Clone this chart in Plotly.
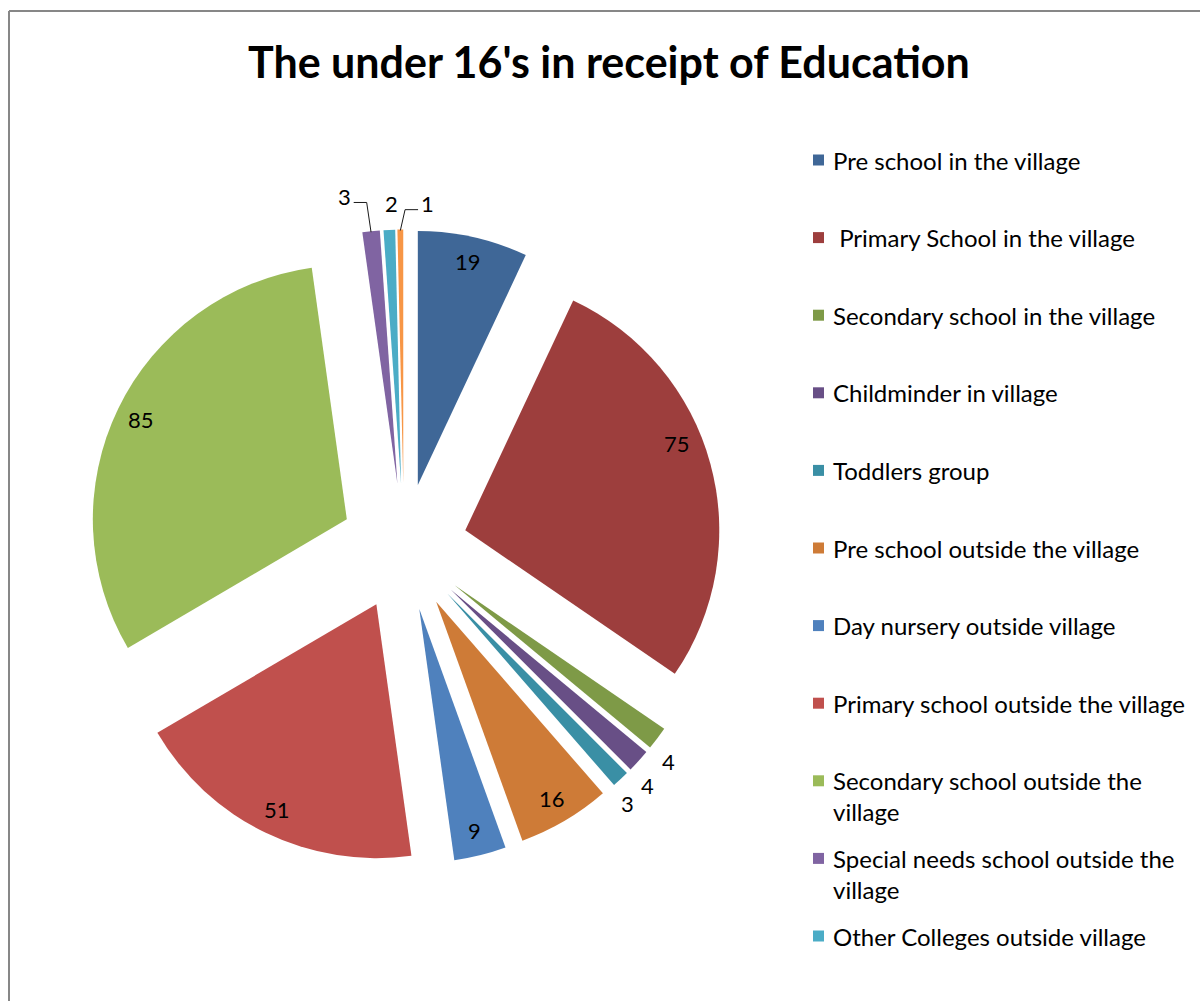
import math
import plotly.graph_objects as go

# Education categories for the under 16s (clockwise from 12 o'clock)
categories = [
    "Pre school in the village",
    " Primary School in the village",
    "Secondary school in the village",
    "Childminder in village",
    "Toddlers group",
    "Pre school outside the village",
    "Day nursery outside village",
    "Primary school outside the village",
    "Secondary school outside the village",
    "Special needs school outside the village",
    "Other Colleges outside village",
    "Other education outside village",
]
counts = [19, 75, 4, 4, 3, 16, 9, 51, 85, 3, 2, 1]
colors = [
    "#3F6797", "#9D3E3D", "#7E9A47", "#684F86", "#3A8FA5", "#CE7B37",
    "#4F81BD", "#C0504D", "#9BBB59", "#8064A2", "#4BACC6", "#F79646",
]
# Legend text as wrapped in the side panel (last category has no room)
legend_lines = [
    ["Pre school in the village"],
    [" Primary School in the village"],
    ["Secondary school in the village"],
    ["Childminder in village"],
    ["Toddlers group"],
    ["Pre school outside the village"],
    ["Day nursery outside village"],
    ["Primary school outside the village"],
    ["Secondary school outside the", "village"],
    ["Special needs school outside the", "village"],
    ["Other Colleges outside village"],
]

W, H = 1200, 1001
FONT = "Lato"

# Pie geometry in pixels
CX, CY = 404.0, 547.0      # pie centre
R = 254.0                  # slice radius
PULL = 0.25                # explode distance as a fraction of R
half = R * (1 + PULL)
dom_x = [(CX - half) / W, (CX + half) / W]
dom_y = [1 - (CY + half) / H, 1 - (CY - half) / H]


def px(x, y):
    return x / W, 1 - y / H


fig = go.Figure(
    go.Pie(
        labels=categories,
        values=counts,
        sort=False,
        direction="clockwise",
        rotation=0,
        pull=[PULL] * len(counts),
        marker=dict(colors=colors, line=dict(width=0)),
        textinfo="none",
        domain=dict(x=dom_x, y=dom_y),
        showlegend=False,
        hoverinfo="label+value",
    )
)

shapes = []
annotations = []

# Value labels: inside near the rim for large slices, just outside for small
angle_nudge = {1: -7.0, 2: 2.5, 3: 2.5, 4: 2.5}      # degrees, per slice index
offset_nudge = {9: (-24, -12), 10: (3, -4), 11: (27, -3)}  # pixels, top labels
leader = {9, 11}
total = float(sum(counts))
cum = 0.0
for i, v in enumerate(counts):
    mid = (cum + v / 2.0) / total * 360.0
    cum += v
    th = math.radians(mid)
    ux, uy = math.sin(th), -math.cos(th)
    sx, sy = CX + PULL * R * ux, CY + PULL * R * uy
    ta = math.radians(mid + angle_nudge.get(i, 0.0))
    frac = 0.9 if v >= 9 else 1.09
    lx, ly = sx + frac * R * math.sin(ta), sy - frac * R * math.cos(ta)
    dx, dy = offset_nudge.get(i, (0, 0))
    lx, ly = lx + dx, ly + dy
    annotations.append(dict(
        xref="paper", yref="paper", x=lx / W, y=1 - ly / H,
        xanchor="center", yanchor="middle", showarrow=False,
        text=str(v), font=dict(family=FONT, size=22, color="#000000"),
    ))
    if i in leader:
        # elbow leader line from the slice rim to the moved label
        ox, oy = sx + R * ux, sy + R * uy + 1
        side = -1 if dx < 0 else 1
        ex, ey = lx - side * 22, ly + 6
        tx, ty = lx - side * 9, ly + 6
        pts = [px(ox, oy), px(ex, ey), px(tx, ty)]
        path = "M {:.5f},{:.5f} L {:.5f},{:.5f} L {:.5f},{:.5f}".format(
            *pts[0], *pts[1], *pts[2])
        shapes.append(dict(type="path", xref="paper", yref="paper", path=path,
                           line=dict(color="#1A1A1A", width=1)))

# Side legend drawn as swatches and text
pitch = 77.6
y_first = 160
line_gap = 31
for i, lines in enumerate(legend_lines):
    yc = y_first + i * pitch
    shapes.append(dict(
        type="rect", xref="paper", yref="paper",
        x0=813 / W, x1=824 / W,
        y0=1 - (yc + 5.5) / H, y1=1 - (yc - 5.5) / H,
        fillcolor=colors[i], line=dict(width=0),
    ))
    for j, txt in enumerate(lines):
        annotations.append(dict(
            xref="paper", yref="paper", x=831 / W, y=1 - (yc + j * line_gap) / H,
            xanchor="left", yanchor="middle", text=txt, showarrow=False,
            font=dict(family=FONT, size=24, color="#000000"),
        ))

# Chart frame (top and left edges)
frame = dict(color="#878787", width=2)
shapes.append(dict(type="line", xref="paper", yref="paper",
                   x0=9 / W, x1=1.0, y0=1 - 11 / H, y1=1 - 11 / H, line=frame))
shapes.append(dict(type="line", xref="paper", yref="paper",
                   x0=9 / W, x1=9 / W, y0=1 - 11 / H, y1=0, line=frame))

annotations.append(dict(
    xref="paper", yref="paper", x=609 / W, y=1 - 61 / H,
    xanchor="center", yanchor="middle", showarrow=False,
    text="<b>The under 16's in receipt of Education</b>",
    font=dict(family=FONT, size=43, color="#000000"),
))

fig.update_layout(
    width=W, height=H,
    margin=dict(l=0, r=0, t=0, b=0, autoexpand=False),
    paper_bgcolor="#FFFFFF",
    plot_bgcolor="#FFFFFF",
    shapes=shapes,
    annotations=annotations,
)

fig.write_html("out.html")
